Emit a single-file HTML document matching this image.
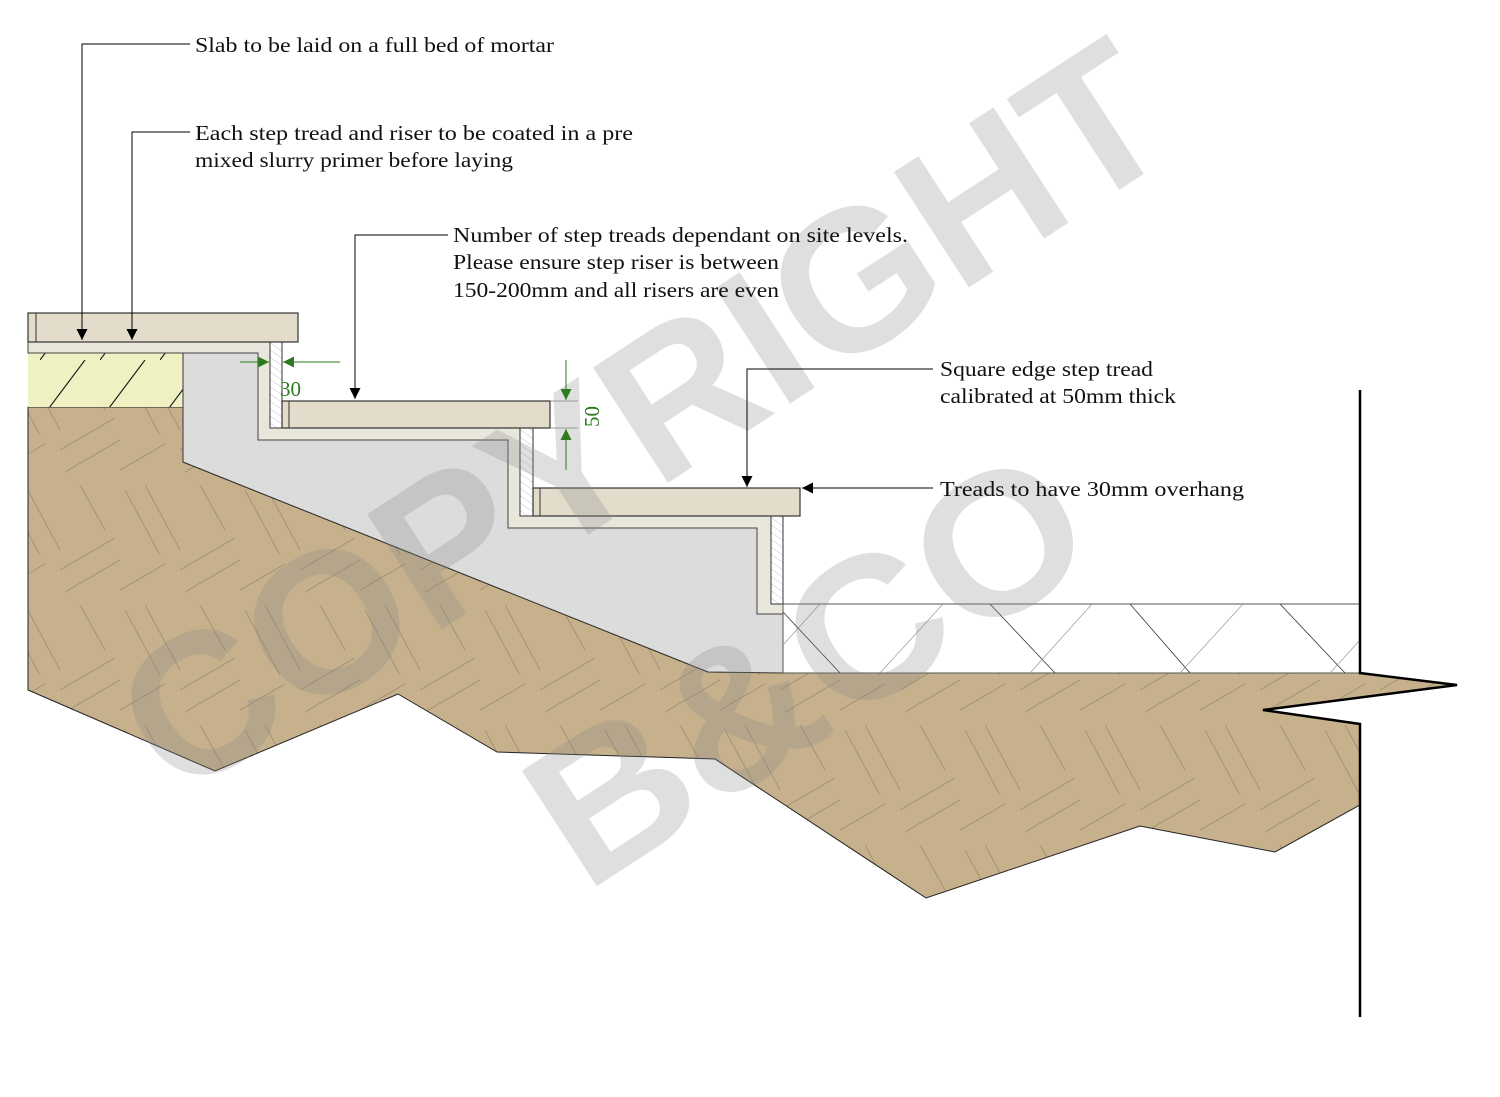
<!DOCTYPE html>
<html><head><meta charset="utf-8"><style>
html,body{margin:0;padding:0;background:#fff;}
svg{display:block;}
text{font-family:"Liberation Serif",serif;}
</style></head><body>
<svg width="1500" height="1097" viewBox="0 0 1500 1097" xmlns="http://www.w3.org/2000/svg">
<defs>
<pattern id="soil" width="120" height="120" patternUnits="userSpaceOnUse">
<rect width="120" height="120" fill="#c6b18c"/>
<g stroke="#9f8d6e" stroke-width="0.8" fill="none">
<line x1="5" y1="10" x2="40" y2="75"/><line x1="25" y1="5" x2="60" y2="70"/>
<line x1="60" y1="90" x2="115" y2="58"/><line x1="65" y1="112" x2="120" y2="80"/>
<line x1="0" y1="110" x2="45" y2="84"/><line x1="80" y1="5" x2="105" y2="50"/>
</g></pattern>
<pattern id="yel" width="60" height="60" patternUnits="userSpaceOnUse" patternTransform="translate(40,0)">
<rect width="60" height="60" fill="#eff1c3"/>
<line x1="0" y1="60" x2="45" y2="0" stroke="#222" stroke-width="1.2"/>
</pattern>
<pattern id="rh" width="6" height="6" patternUnits="userSpaceOnUse" patternTransform="rotate(-55)">
<rect width="6" height="6" fill="#fff"/><line x1="0" y1="0" x2="0" y2="6" stroke="#aaa" stroke-width="0.7"/>
</pattern>
<marker id="ah" viewBox="0 0 10 10" refX="10" refY="5" markerWidth="18" markerHeight="11" orient="auto" markerUnits="userSpaceOnUse">
<path d="M0,0 L10,5 L0,10 z" fill="#000"/></marker>
<marker id="gh" viewBox="0 0 10 10" refX="10" refY="5" markerWidth="18" markerHeight="11" orient="auto" markerUnits="userSpaceOnUse">
<path d="M0,0 L10,5 L0,10 z" fill="#2e7a1e"/></marker>
</defs>

<path d="M28,407 L183,407 L183,462 L708,672 L1360,673 L1457,685 L1263,710 L1360,724 L1360,805 L1275,852 L1140,826 L926,898 L715,759 L497,752 L398,694 L215,771 L28,690 Z" fill="url(#soil)" stroke="#222" stroke-width="1"/>
<rect x="28" y="353" width="155" height="54" fill="url(#yel)"/>
<path d="M183,353 L258,353 L258,440 L508,440 L508,528 L757,528 L757,614 L783,614 L783,673 L708,672 L183,462 Z" fill="#dcdcdc" stroke="#333" stroke-width="1"/>
<path d="M28,342 L270,342 L270,428 L520,428 L520,516 L771,516 L771,604 L783,604 L783,614 L757,614 L757,528 L508,528 L508,440 L258,440 L258,353 L28,353 Z" fill="#e9e6dc" stroke="#444" stroke-width="1"/>
<rect x="270" y="342" width="12" height="86" fill="url(#rh)" stroke="#333" stroke-width="1"/>
<rect x="520" y="428" width="13" height="88" fill="url(#rh)" stroke="#333" stroke-width="1"/>
<rect x="771" y="516" width="12" height="88" fill="url(#rh)" stroke="#333" stroke-width="1"/>
<rect x="28" y="313" width="270" height="29" fill="#e3dccb" stroke="#333" stroke-width="1.2"/>
<line x1="36" y1="313" x2="36" y2="342" stroke="#333"/>
<rect x="282" y="401" width="268" height="27" fill="#e3dccb" stroke="#333" stroke-width="1.2"/>
<line x1="289" y1="401" x2="289" y2="428" stroke="#333"/>
<rect x="533" y="488" width="267" height="28" fill="#e3dccb" stroke="#333" stroke-width="1.2"/>
<line x1="540" y1="488" x2="540" y2="516" stroke="#333"/>
<rect x="783" y="604" width="577" height="69" fill="#fff" stroke="#555" stroke-width="1"/>
<g stroke="#333" stroke-width="0.8">
<line x1="783" y1="612" x2="840" y2="673"/><line x1="990" y1="604" x2="1055" y2="673"/><line x1="1130" y1="604" x2="1190" y2="673"/><line x1="1280" y1="604" x2="1345" y2="673"/>
</g>
<g stroke="#999" stroke-width="0.7">
<line x1="783" y1="645" x2="820" y2="604"/><line x1="880" y1="673" x2="943" y2="604"/><line x1="1030" y1="673" x2="1092" y2="604"/><line x1="1180" y1="673" x2="1243" y2="604"/><line x1="1330" y1="673" x2="1360" y2="640"/>
</g>
<path d="M1360,390 L1360,673 L1457,685 L1263,710 L1360,724 L1360,1017" fill="none" stroke="#000" stroke-width="2.5"/>

<g fill="#888" fill-opacity="0.27" font-weight="bold">
<text x="0" y="0" font-size="200" text-anchor="middle" textLength="1200" lengthAdjust="spacingAndGlyphs" transform="translate(680,475) rotate(-33)" style="font-family:'Liberation Sans',sans-serif">COPYRIGHT</text>
<text x="0" y="0" font-size="200" text-anchor="middle" textLength="620" lengthAdjust="spacingAndGlyphs" transform="translate(845,725) rotate(-33)" style="font-family:'Liberation Sans',sans-serif">B&amp;CO</text>
</g>

<g stroke="#000" stroke-width="1" fill="none">
<polyline points="190,44 82,44 82,340" marker-end="url(#ah)"/>
<polyline points="190,132 132,132 132,340" marker-end="url(#ah)"/>
<polyline points="448,235 355,235 355,399" marker-end="url(#ah)"/>
<polyline points="933,369 747,369 747,487" marker-end="url(#ah)"/>
<line x1="933" y1="488" x2="802" y2="488" marker-end="url(#ah)"/>
</g>
<g stroke="#2e7a1e" stroke-width="1" fill="none">
<line x1="240" y1="362" x2="269" y2="362" marker-end="url(#gh)"/>
<line x1="340" y1="362" x2="283" y2="362" marker-end="url(#gh)"/>
<line x1="566" y1="360" x2="566" y2="400" marker-end="url(#gh)"/>
<line x1="566" y1="470" x2="566" y2="429" marker-end="url(#gh)"/>
<line x1="551" y1="401" x2="578" y2="401" stroke="#999"/>
<line x1="551" y1="428" x2="578" y2="428" stroke="#999"/>
</g>
<text x="280" y="396" font-size="21" fill="#2e7a1e">30</text>
<text x="0" y="0" font-size="21" fill="#2e7a1e" transform="translate(599,427) rotate(-90)">50</text>

<g font-size="21" fill="#111">
<text x="195" y="52" textLength="359" lengthAdjust="spacingAndGlyphs">Slab to be laid on a full bed of mortar</text>
<text x="195" y="140" textLength="438" lengthAdjust="spacingAndGlyphs">Each step tread and riser to be coated in a pre</text>
<text x="195" y="167" textLength="318" lengthAdjust="spacingAndGlyphs">mixed slurry primer before laying</text>
<text x="453" y="242" textLength="455" lengthAdjust="spacingAndGlyphs">Number of step treads dependant on site levels.</text>
<text x="453" y="269" textLength="326" lengthAdjust="spacingAndGlyphs">Please ensure step riser is between</text>
<text x="453" y="297" textLength="326" lengthAdjust="spacingAndGlyphs">150-200mm and all risers are even</text>
<text x="940" y="376" textLength="213" lengthAdjust="spacingAndGlyphs">Square edge step tread</text>
<text x="940" y="403" textLength="236" lengthAdjust="spacingAndGlyphs">calibrated at 50mm thick</text>
<text x="940" y="496" textLength="304" lengthAdjust="spacingAndGlyphs">Treads to have 30mm overhang</text>
</g>
</svg>
</body></html>
